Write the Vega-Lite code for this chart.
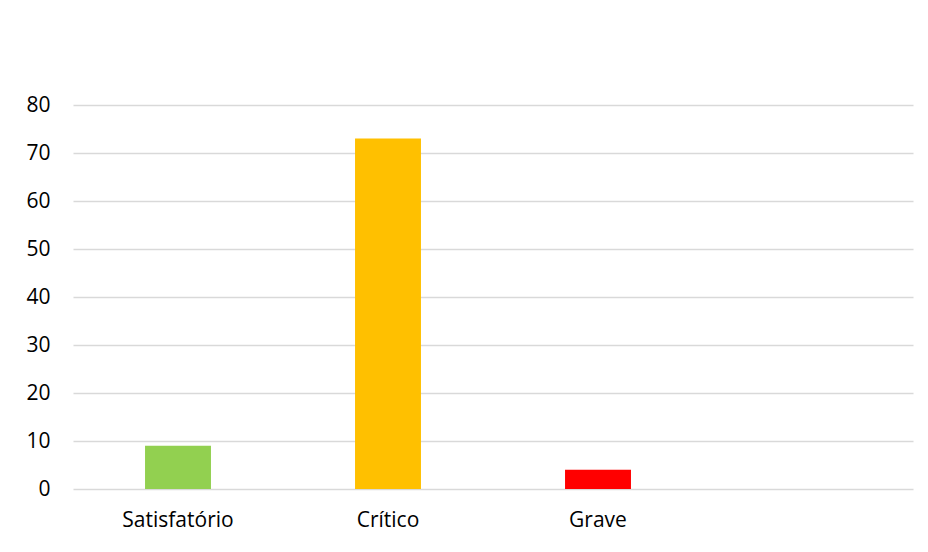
{
  "$schema": "https://vega.github.io/schema/vega-lite/v6.json",
  "width": 840,
  "height": 384,
  "autosize": "none",
  "padding": {"top": 105, "left": 73, "right": 15, "bottom": 63},
  "background": "#ffffff",
  "config": {
    "view": {"stroke": null},
    "font": "Open Sans",
    "axis": {"labelFont": "Open Sans", "labelFontSize": 21, "labelColor": "#000000"}
  },
  "data": {
    "values": [
      {"categoria": "Satisfatório", "valor": 9},
      {"categoria": "Crítico", "valor": 73},
      {"categoria": "Grave", "valor": 4}
    ]
  },
  "mark": {"type": "bar"},
  "encoding": {
    "x": {
      "field": "categoria",
      "type": "nominal",
      "sort": null,
      "scale": {"domain": ["Satisfatório", "Crítico", "Grave", " "], "paddingInner": 0.686, "paddingOuter": 0.343},
      "axis": {"title": null, "domain": false, "ticks": false, "labelAngle": 0, "labelPadding": 20, "grid": false}
    },
    "y": {
      "field": "valor",
      "type": "quantitative",
      "scale": {"domain": [0, 80], "nice": false},
      "axis": {"title": null, "domain": false, "ticks": false, "values": [0, 10, 20, 30, 40, 50, 60, 70, 80], "labelPadding": 23, "grid": true, "gridColor": "#d9d9d9", "gridWidth": 1.3}
    },
    "color": {
      "field": "categoria",
      "type": "nominal",
      "scale": {"domain": ["Satisfatório", "Crítico", "Grave"], "range": ["#92d050", "#ffc000", "#ff0000"]},
      "legend": null
    }
  }
}
